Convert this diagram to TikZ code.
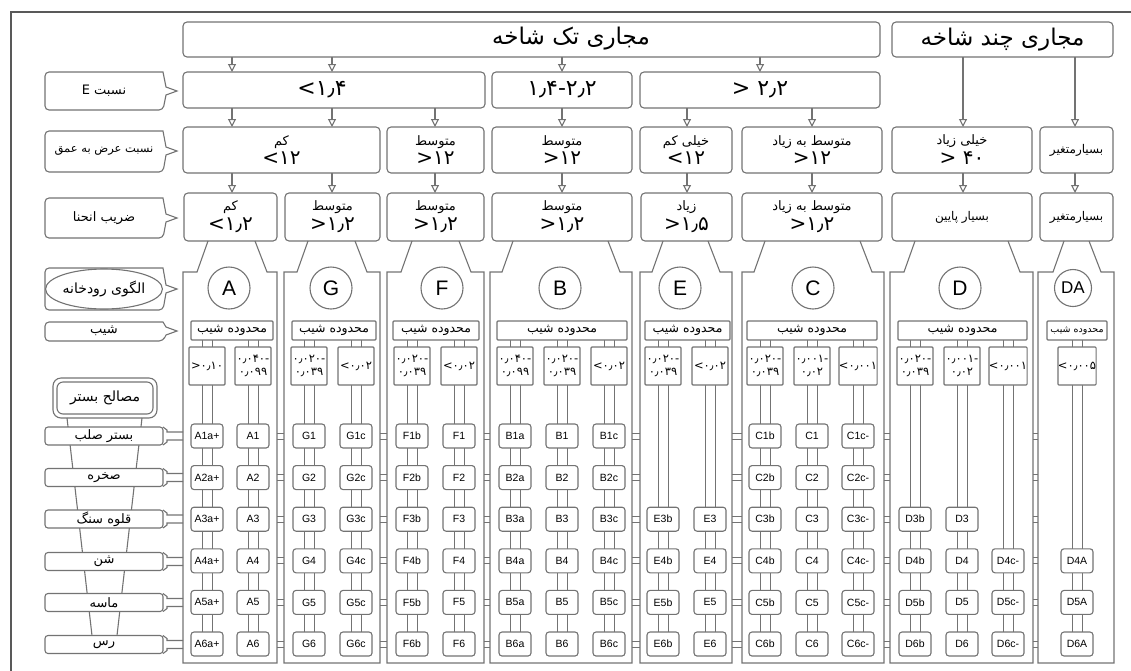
\documentclass[tikz,border=0pt]{standalone}
\usepackage{fontspec}
\setmainfont{Liberation Sans}
\newfontfamily\fa[Script=Arabic]{DejaVu Sans}
\newfontfamily\fn{DejaVu Sans}
\TeXXeTstate=1
\usetikzlibrary{arrows.meta,calc,shapes.geometric}
\pgfdeclarelayer{bg}
\pgfsetlayers{bg,main}
\newcommand\fs[1]{\fontsize{#1}{#1}\selectfont}
\newcommand\two[2]{{\fa\fs{13}\beginR #1\endR}\\[3pt]{\fn\fs{20}#2}}
\newcommand\bx[7]{\node[box,minimum width={(#4)-(#2)},minimum height={(#5)-(#3)},#6] (#1) at ({((#2)+(#4))/2},{((#3)+(#5))/2}) {#7};}
\newcommand\colm[4]{\draw[ln] (#3,241) -- ({#3-11},272) -- (#1,272) -- (#1,663) -- (#2,663) -- (#2,272) -- ({#4+12},272) -- (#4,241);}
\newcommand\chev[5]{%
  \draw[ln,fill=white] (166,{#4-4}) -- (163,#2) [rounded corners=4pt] -- (45,#2) -- (45,#3) -- (163,#3) [sharp corners] -- (166,{#4+4}) -- (177,#4) -- cycle;
  \node[font=\fs{13}\fa] (#1) at (104,#4) {#5};}
\begin{document}
\begin{tikzpicture}[x=1pt,y=-1pt,
  ln/.style={draw=black!55,line width=1.1pt},
  box/.style={ln,rounded corners=4pt,inner sep=0pt,outer sep=0pt,fill=white,align=center,text=black},
  arr/.style={draw=black!55,line width=1.1pt,-{Triangle[open,width=8pt,length=8pt]}},
  circ/.style={circle,ln,fill=white,minimum size=42pt,inner sep=0pt,font=\fs{21}},
  tbox/.style={box,rounded corners=3pt,minimum width=32pt,minimum height=24pt,font=\fs{10.5}},
  sbox/.style={box,rounded corners=1pt,minimum width=36pt,minimum height=38pt,font=\fs{11.5}\fn},
  mbox/.style={box,rounded corners=1pt,font=\fs{12.5}\fa},
]
\useasboundingbox (0,0) rectangle (1131,670);
\draw[draw=black!65,line width=2.5pt] (11,672) -- (11,12) -- (1133,12);

% ---- row 1
\bx{h1}{183}{22}{880}{57}{}{}
\node[font=\fs{23}\fa] (h1t) at (571,39) {\beginR مجاری تک شاخه\endR};
\bx{h2}{892}{22}{1113}{57}{font=\fs{23}\fa}{\beginR مجاری چند شاخه\endR}

% ---- row 2
\bx{e1}{183}{72}{485}{108}{}{}
\node[font=\fs{22}\fn] (e1t) at (322,90) {<۱٫۴};
\bx{e2}{492}{72}{632}{108}{font=\fs{22}\fn}{۱٫۴-۲٫۲}
\bx{e3}{640}{72}{880}{108}{font=\fs{22}\fn}{> ۲٫۲}

% ---- row 3
\bx{w1}{183}{127}{380}{173}{}{\two{کم}{<۱۲}}
\bx{w2}{387}{127}{484}{173}{}{\two{متوسط}{>۱۲}}
\bx{w3}{492}{127}{632}{173}{}{\two{متوسط}{>۱۲}}
\bx{w4}{640}{127}{732}{173}{}{\two{خیلی کم}{<۱۲}}
\bx{w5}{742}{127}{882}{173}{}{\two{متوسط به زیاد}{>۱۲}}
\bx{w6}{892}{127}{1032}{173}{}{\two{خیلی زیاد}{> ۴۰}}
\bx{w7}{1040}{127}{1113}{173}{font=\fs{12}\fa}{\beginR بسیارمتغیر\endR}

% ---- row 4
\bx{s1}{184}{193}{277}{241}{}{\two{کم}{<۱٫۲}}
\bx{s2}{285}{193}{380}{241}{}{\two{متوسط}{>۱٫۲}}
\bx{s3}{387}{193}{484}{241}{}{\two{متوسط}{>۱٫۲}}
\bx{s4}{492}{193}{632}{241}{}{\two{متوسط}{>۱٫۲}}
\bx{s5}{641}{193}{732}{241}{}{\two{زیاد}{>۱٫۵}}
\bx{s6}{742}{193}{882}{241}{}{\two{متوسط به زیاد}{>۱٫۲}}
\bx{s7}{892}{193}{1032}{241}{font=\fs{12}\fa}{\beginR بسیار پایین\endR}
\bx{s8}{1040}{193}{1113}{241}{font=\fs{12}\fa}{\beginR بسیارمتغیر\endR}

% ---- arrows
\foreach \u/\v/\x [count=\k] in {h1/e1/232,h1/e1/332,h1/e2/562,h1/e3/760,h2/w6/963,h2/w7/1075,
  e1/w1/232,e1/w1/332,e1/w2/435,e2/w3/562,e3/w4/687,e3/w5/812,
  w1/s1/232,w1/s2/332,w2/s3/435,w3/s4/562,w4/s5/687,w5/s6/812,w6/s7/963,w7/s8/1075}
  {\coordinate (ax\k) at (\x,0); \draw[arr] (\u.south -| ax\k) -- (\v.north -| ax\k);}

% ---- stream type columns
\colm{183}{277}{208}{255}
\colm{284}{380}{308}{355}
\colm{387}{484}{412}{459}
\colm{490}{632}{513}{608}
\colm{640}{732}{663}{708}
\colm{742}{884}{765}{860}
\colm{890}{1033}{915}{1008}
\colm{1038}{1114}{1064}{1089}

\node[circ] (cA) at (229,288) {A};
\node[circ] (cG) at (331,288) {G};
\node[circ] (cF) at (442,288) {F};
\node[circ] (cB) at (560,288) {B};
\node[circ] (cE) at (680,288) {E};
\node[circ] (cC) at (813,288) {C};
\node[circ] (cD) at (960,288) {D};
\node[circ,minimum size=37pt,font=\fs{17}] (cDA) at (1073,288) {DA};

\bx{mA}{191}{321}{273}{340}{mbox}{\beginR محدوده شیب\endR}
\bx{mG}{292}{321}{376}{340}{mbox}{\beginR محدوده شیب\endR}
\bx{mF}{393}{321}{479}{340}{mbox}{\beginR محدوده شیب\endR}
\bx{mB}{497}{321}{627}{340}{mbox}{\beginR محدوده شیب\endR}
\bx{mE}{645}{321}{730}{340}{mbox}{\beginR محدوده شیب\endR}
\bx{mC}{747}{321}{877}{340}{mbox}{\beginR محدوده شیب\endR}
\bx{mD}{898}{321}{1027}{340}{mbox}{\beginR محدوده شیب\endR}
\bx{mDA}{1047}{321}{1107}{340}{mbox,font=\fs{9.5}\fa}{\beginR محدوده شیب\endR}

\foreach \x/\pre/\suf/\from/\st [count=\i] in {
  207/A/a+/1/{>۰٫۱۰},
  253/A//1/{۰٫۰۴۰-\\[2pt]۰٫۰۹۹},
  309/G//1/{۰٫۰۲۰-\\[2pt]۰٫۰۳۹},
  356/G/c/1/{<۰٫۰۲},
  412/F/b/1/{۰٫۰۲۰-\\[2pt]۰٫۰۳۹},
  459/F//1/{<۰٫۰۲},
  515/B/a/1/{۰٫۰۴۰-\\[2pt]۰٫۰۹۹},
  562/B//1/{۰٫۰۲۰-\\[2pt]۰٫۰۳۹},
  609/B/c/1/{<۰٫۰۲},
  663/E/b/3/{۰٫۰۲۰-\\[2pt]۰٫۰۳۹},
  710/E//3/{<۰٫۰۲},
  765/C/b/1/{۰٫۰۲۰-\\[2pt]۰٫۰۳۹},
  812/C//1/{۰٫۰۰۱-\\[2pt]۰٫۰۲},
  858/C/c-/1/{<۰٫۰۰۱},
  915/D/b/3/{۰٫۰۲۰-\\[2pt]۰٫۰۳۹},
  962/D//3/{۰٫۰۰۱-\\[2pt]۰٫۰۲},
  1008/D/c-/4/{<۰٫۰۰۱},
  1077/D/A/4/{<۰٫۰۰۵}}
{
  \node[sbox] (p\i) at (\x,366) {\st};
  \foreach \r in {\from,...,6}
    \node[tbox] (t\i r\r) at (\x,{436+(\r-1)*41.6}) {\pre\r\suf};
  \begin{pgfonlayer}{bg}
    \draw[ln,line width=0.9pt] ($(p\i.north)+(-5,-7)$) -- ($(t\i r6.center)+(-5,0)$);
    \draw[ln,line width=0.9pt] ($(p\i.north)+(5,-7)$) -- ($(t\i r6.center)+(5,0)$);
  \end{pgfonlayer}
}

% ticks between columns
\foreach \a/\b in {277/284,380/387,484/490,632/640,732/742,884/890,1033/1038}
  \foreach \r in {1,...,6}
  {\draw[ln,line width=0.8pt] (\a,{436+(\r-1)*41.6-3}) -- (\b,{436+(\r-1)*41.6-3});
   \draw[ln,line width=0.8pt] (\a,{436+(\r-1)*41.6+3}) -- (\b,{436+(\r-1)*41.6+3});}

% ---- left labels
\chev{lE}{72}{110}{91}{\beginR نسبت E\endR}
\chev{lW}{131}{172}{151}{\fs{11.5}\beginR نسبت عرض به عمق\endR}
\chev{lS}{198}{238}{218}{\beginR ضریب انحنا\endR}
\chev{lP}{268}{310}{289}{}
\node[ellipse,ln,minimum width=116pt,minimum height=40pt,inner sep=0pt,font=\fs{14}\fa] (lPe) at (104,289) {\beginR الگوی رودخانه\endR};
\chev{lSl}{322}{341}{331}{\beginR شیب\endR}

\node[ln,rounded corners=8pt,minimum width=104pt,minimum height=40pt,inner sep=0pt,outer sep=0pt] (mh) at (105,398) {};
\node[ln,rounded corners=6pt,minimum width=96pt,minimum height=32pt,inner sep=0pt,font=\fs{14}\fa] (mht) at (105,398) {\beginR مصالح بستر\endR};

\foreach \t/\y [count=\k] in {بستر صلب/436,صخره/477.5,قلوه سنگ/519,شن/561.5,ماسه/602.5,رس/644.5}
{
  \node[box,rounded corners=3pt,minimum width=118pt,minimum height=18pt,font=\fs{13}\fa] (mat\k) at (104,\y) {\beginR \t\endR};
  \draw[ln] (mat\k.north east) -- ++(4,3) -- ($(mat\k.east)+(4,-4)$) -- ($(mat\k.east)+(20,-4)$);
  \draw[ln] (mat\k.south east) -- ++(4,-3) -- ($(mat\k.east)+(4,4)$) -- ($(mat\k.east)+(20,4)$);
}
\begin{pgfonlayer}{bg}
\draw[ln] ($(mh.south)+(-38,0)$) -- ($(mat6.north)+(-12,0)$);
\draw[ln] ($(mh.south)+(37,0)$) -- ($(mat6.north)+(13,0)$);
\end{pgfonlayer}
\end{tikzpicture}
\end{document}
